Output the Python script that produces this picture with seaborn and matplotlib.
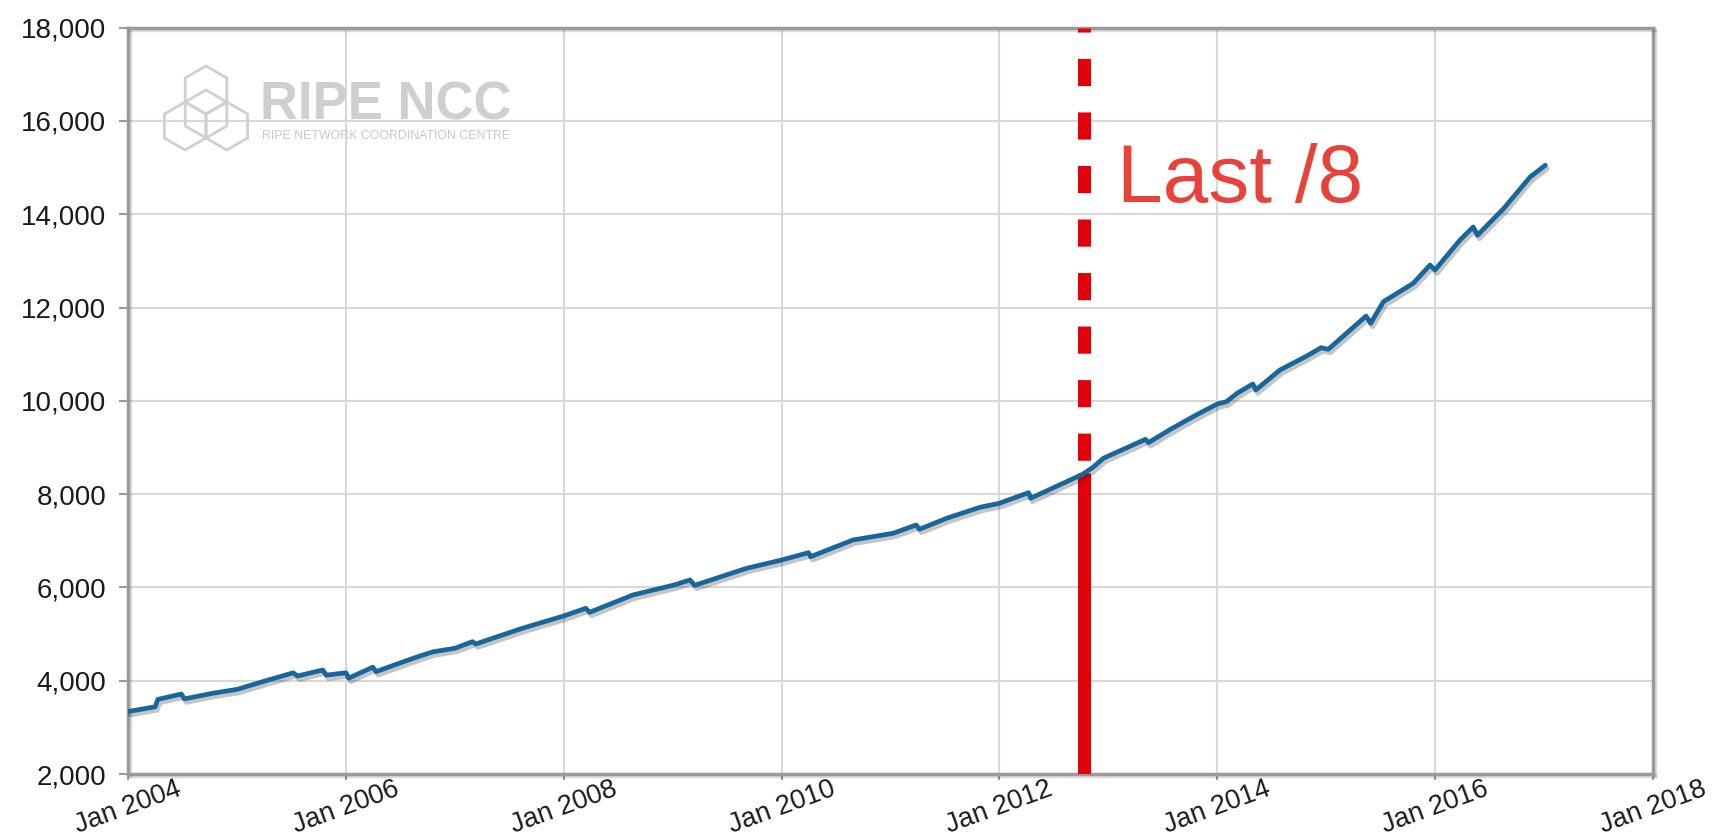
import numpy as np
import pandas as pd
import matplotlib
matplotlib.use('Agg')
import matplotlib.pyplot as plt
import matplotlib.dates as mdates
import matplotlib.patheffects as pe
from matplotlib.patches import RegularPolygon
import seaborn as sns

# RIPE NCC membership over time
dates = [
    '2004-01-01', '2004-04-01', '2004-04-10', '2004-06-28', '2004-07-08', '2004-10-10',
    '2005-01-01', '2005-03-28', '2005-07-08', '2005-07-22', '2005-10-15', '2005-10-27',
    '2006-01-01', '2006-01-10', '2006-04-01', '2006-04-12', '2006-07-01', '2006-09-01',
    '2006-10-20', '2007-01-01', '2007-03-01', '2007-03-12', '2007-08-15', '2008-01-01',
    '2008-03-15', '2008-03-28', '2008-08-20', '2009-01-05', '2009-02-28', '2009-03-15',
    '2009-09-05', '2010-01-01', '2010-04-01', '2010-04-08', '2010-08-28', '2011-01-10',
    '2011-03-28', '2011-04-08', '2011-07-08', '2011-10-28', '2012-01-01', '2012-04-08',
    '2012-04-15', '2012-07-08', '2012-10-08', '2012-11-10', '2012-12-15', '2013-05-05',
    '2013-05-15', '2013-07-28', '2013-10-22', '2014-01-01', '2014-02-01', '2014-03-08',
    '2014-04-30', '2014-05-10', '2014-07-30', '2014-10-28', '2014-12-15', '2015-01-08',
    '2015-05-15', '2015-05-30', '2015-07-12', '2015-10-20', '2015-12-15', '2016-01-01',
    '2016-03-25', '2016-05-08', '2016-05-22', '2016-08-18', '2016-11-15', '2017-01-05',
]
members = [
    3340, 3440, 3600, 3715, 3610, 3730,
    3815, 3980, 4170, 4100, 4230, 4120,
    4170, 4055, 4290, 4195, 4380, 4520,
    4620, 4695, 4837, 4787, 5124, 5388,
    5553, 5467, 5838, 6052, 6160, 6045,
    6409, 6588, 6745, 6659, 7017, 7161,
    7339, 7247, 7482, 7718, 7804, 8031,
    7911, 8160, 8432, 8576, 8769, 9176,
    9104, 9390, 9697, 9933, 9983, 10162,
    10362, 10233, 10662, 10962, 11140, 11105,
    11819, 11662, 12126, 12520, 12911, 12806,
    13449, 13727, 13549, 14121, 14800, 15051,
]

last8_date = '2012-10-12'
last8_label = 'Last /8'
year_ticks = list(range(2004, 2019, 2))
y_ticks = list(range(2000, 18001, 2000))

df = pd.DataFrame({'date': pd.to_datetime(dates), 'members': members})

sns.set_theme(style='whitegrid')
plt.rcParams['font.family'] = ['Liberation Sans', 'DejaVu Sans']

W, H = 1719, 838
fig = plt.figure(figsize=(W / 100, H / 100), dpi=100)
ax = fig.add_axes([128 / W, 1 - 774 / H, (1653 - 128) / W, (774 - 27.7) / H])

# membership line with a soft drop shadow
sns.lineplot(data=df, x='date', y='members', ax=ax, estimator=None,
             color='#17679c', lw=3.4, zorder=5,
             path_effects=[pe.SimpleLineShadow(offset=(1.5, -2.5), shadow_color='k', alpha=0.25),
                           pe.Normal()])

# "Last /8" marker: solid below the curve, dashed above
d8 = pd.Timestamp(last8_date)
cross = np.interp(mdates.date2num(d8), mdates.date2num(df['date']), df['members'])
red = '#e3000b'
ax.plot([d8, d8], [y_ticks[0], cross], color=red, lw=9.4, solid_capstyle='butt', zorder=4)
ax.plot([d8, d8], [y_ticks[-1], cross], color=red, lw=9.4,
        linestyle=(1.77, (2.08, 2.02)), dash_capstyle='butt', zorder=4)
ax.text(0.6485, 0.7665, last8_label, transform=ax.transAxes, fontsize=59,
        color='#e8433a', ha='left', va='baseline', zorder=6)

ax.set_xlim(pd.Timestamp('2004-01-01'), pd.Timestamp('2018-01-01'))
ax.set_ylim(y_ticks[0], y_ticks[-1])
ax.set_xticks([pd.Timestamp(f'{y}-01-01') for y in year_ticks])
ax.set_xticklabels([f'Jan {y}' for y in year_ticks], rotation=20, ha='center')
ax.set_yticks(y_ticks)
ax.set_yticklabels([f'{v:,}' for v in y_ticks])
ax.set_xlabel('')
ax.set_ylabel('')

ax.grid(True, color='#d8d8d8', lw=1.5)
ax.tick_params(axis='y', left=True, length=6.5, width=1.5, color='#9a9a9a',
               pad=9, labelsize=20, labelcolor='#1a1a1a')
ax.tick_params(axis='x', bottom=True, length=4.5, width=1.5, color='#9a9a9a',
               pad=-3, labelsize=19.5, labelcolor='#1a1a1a')
for s in ax.spines.values():
    s.set_visible(True)
    s.set_color('#9a9a9a')
    s.set_linewidth(2.5)
    s.set_path_effects([pe.SimpleLineShadow(offset=(1.5, -1.5), alpha=0.15), pe.Normal()])

# watermark logo, drawn in figure pixel units
logo = fig.add_axes([0, 0, 1, 1], zorder=3)
logo.set_xlim(0, W)
logo.set_ylim(H, 0)
logo.axis('off')
logo.patch.set_alpha(0)
grey = '#d0d0d0'
r = 24
for cx, cy in [(206, 90), (185.2, 126), (226.8, 126), (206, 114)]:
    logo.add_patch(RegularPolygon((cx, cy), 6, radius=r, orientation=0,
                                  fill=False, ec=grey, lw=2))
logo.text(260, 120, 'RIPE NCC', fontsize=38, fontweight='bold', color='#cfcfcf',
          ha='left', va='baseline')
logo.text(262, 139, 'RIPE NETWORK COORDINATION CENTRE', fontsize=8.9, color='#c8c8c8',
          ha='left', va='baseline')

fig.savefig('out.png', dpi=100)
